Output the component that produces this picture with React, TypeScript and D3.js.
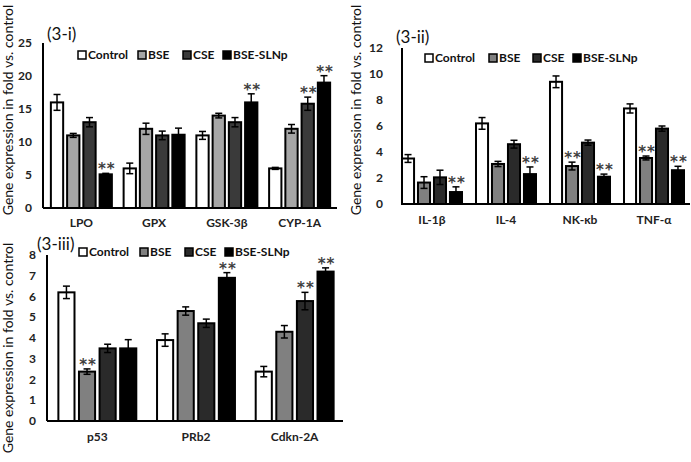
import React from "react";
import * as d3 from "d3";

// ---------- DATA ----------
const seriesNames = ["Control", "BSE", "CSE", "BSE-SLNp"];

// Panel 3-i
const cats1 = ["LPO", "GPX", "GSK-3β", "CYP-1A"];
const control1 = [16, 6, 11, 6];
const bse1 = [11, 12, 14, 12];
const cse1 = [13, 11, 13, 15.8];
const slnp1 = [5.1, 11.1, 16, 19];
const controlErr1 = [1.2, 0.8, 0.6, 0.15];
const bseErr1 = [0.3, 0.85, 0.35, 0.65];
const cseErr1 = [0.7, 0.65, 0.7, 1.0];
const slnpErr1 = [0.15, 1.0, 1.3, 1.05];
const stars1 = [
  [false, false, false, false],
  [false, false, false, false],
  [false, false, false, true],
  [true, false, true, true],
];
const ticks1 = [0, 5, 10, 15, 20, 25];

// Panel 3-ii
const cats2 = ["IL-1β", "IL-4", "NK-κb", "TNF-α"];
const control2 = [3.5, 6.2, 9.4, 7.35];
const bse2 = [1.65, 3.08, 2.92, 3.54];
const cse2 = [2.05, 4.6, 4.72, 5.8];
const slnp2 = [0.92, 2.3, 2.1, 2.6];
const controlErr2 = [0.3, 0.45, 0.45, 0.35];
const bseErr2 = [0.45, 0.2, 0.3, 0.15];
const cseErr2 = [0.55, 0.3, 0.2, 0.2];
const slnpErr2 = [0.4, 0.55, 0.2, 0.3];
const stars2 = [
  [false, false, false, false],
  [false, false, true, true],
  [false, false, false, false],
  [true, true, true, true],
];
const ticks2 = [0, 2, 4, 6, 8, 10, 12];

// Panel 3-iii
const cats3 = ["p53", "PRb2", "Cdkn-2A"];
const control3 = [6.2, 3.9, 2.38];
const bse3 = [2.38, 5.3, 4.3];
const cse3 = [3.5, 4.71, 5.78];
const slnp3 = [3.5, 6.9, 7.2];
const controlErr3 = [0.3, 0.3, 0.25];
const bseErr3 = [0.13, 0.2, 0.3];
const cseErr3 = [0.2, 0.2, 0.42];
const slnpErr3 = [0.42, 0.25, 0.18];
const stars3 = [
  [false, false, false],
  [true, false, false],
  [false, false, true],
  [false, true, true],
];
const ticks3 = [0, 1, 2, 3, 4, 5, 6, 7, 8];

const FONT = "Lato, 'Open Sans', sans-serif";

type PanelProps = {
  title: string;
  cats: string[];
  values: number[][];
  errs: number[][];
  stars: boolean[][];
  ticks: number[];
  colors: string[];
  axisX: number;
  axisEnd: number;
  y0: number;
  yTop: number;
  bandStart: number;
  bandEnd: number;
  groupPad: number;
  barPad: number;
  tickX: number;
  catY: number;
  titleX: number;
  titleY: number;
  legendX: number[];
  legendY: number;
  ylabX: number;
  ylabY: number;
};

function Panel(p: PanelProps) {
  const yMax = p.ticks[p.ticks.length - 1];
  const y = d3.scaleLinear().domain([0, yMax]).range([p.y0, p.yTop]);
  const x0 = d3
    .scaleBand<string>()
    .domain(p.cats)
    .range([p.bandStart, p.bandEnd])
    .paddingInner(p.groupPad)
    .paddingOuter(p.groupPad / 2);
  const x1 = d3
    .scaleBand<string>()
    .domain(seriesNames)
    .range([0, x0.bandwidth()])
    .paddingInner(p.barPad);
  const bw = x1.bandwidth();
  return (
    <g fontFamily={FONT}>
      {/* bars */}
      {p.values.map((vals, si) =>
        vals.map((v, ci) => {
          const bx = (x0(p.cats[ci]) as number) + (x1(seriesNames[si]) as number);
          const top = y(v);
          const e = p.errs[si][ci];
          const cx = bx + bw / 2;
          return (
            <g key={`b${si}-${ci}`}>
              <rect
                x={bx + 1}
                y={top}
                width={bw - 2}
                height={p.y0 - top}
                fill={p.colors[si]}
                stroke="#000"
                strokeWidth={2}
              />
              <line x1={cx} x2={cx} y1={y(v + e)} y2={y(v - e)} stroke="#000" strokeWidth={1.5} />
              <line x1={cx - 3.5} x2={cx + 3.5} y1={y(v + e)} y2={y(v + e)} stroke="#000" strokeWidth={1.5} />
              <line x1={cx - 3.5} x2={cx + 3.5} y1={y(v - e)} y2={y(v - e)} stroke="#000" strokeWidth={1.5} />
              {p.stars[si][ci] && (
                <text
                  x={cx + 1}
                  y={y(v + e) + 1}
                  textAnchor="middle"
                  fontFamily="'DejaVu Sans', sans-serif"
                  fontSize={15}
                  fontWeight={700}
                  fill="#404040"
                  letterSpacing={1}
                >
                  **
                </text>
              )}
            </g>
          );
        })
      )}
      {/* axes */}
      <line x1={p.axisX} x2={p.axisX} y1={p.yTop} y2={p.y0} stroke="#000" strokeWidth={2} />
      <line x1={p.axisX} x2={p.axisEnd} y1={p.y0} y2={p.y0} stroke="#000" strokeWidth={2} />
      {p.ticks.map((t) => (
        <text
          key={`t${t}`}
          x={p.tickX}
          y={y(t)}
          dy="0.35em"
          textAnchor="end"
          fontSize={12}
          fontWeight={700}
          fill="#222"
        >
          {t}
        </text>
      ))}
      {p.cats.map((c) => (
        <text
          key={`c${c}`}
          x={(x0(c) as number) + x0.bandwidth() / 2}
          y={p.catY}
          dy="0.35em"
          textAnchor="middle"
          fontSize={12}
          fontWeight={700}
          fill="#222"
        >
          {c}
        </text>
      ))}
      {/* title */}
      <text x={p.titleX} y={p.titleY} fontSize={17} fill="#111">
        {p.title}
      </text>
      {/* legend */}
      {seriesNames.map((s, i) => (
        <g key={`l${s}`}>
          <rect
            x={p.legendX[i]}
            y={p.legendY - 4}
            width={8}
            height={8}
            fill={p.colors[i]}
            stroke="#000"
            strokeWidth={1.5}
          />
          <text
            x={p.legendX[i] + 10}
            y={p.legendY}
            dy="0.35em"
            fontSize={12}
            fontWeight={700}
            fill="#111"
          >
            {s}
          </text>
        </g>
      ))}
      {/* y label */}
      <text
        transform={`translate(${p.ylabX},${p.ylabY}) rotate(-90)`}
        textAnchor="middle"
        dy="0.35em"
        fontSize={14}
        fill="#111"
      >
        Gene expression in fold vs. control
      </text>
    </g>
  );
}

export default function App() {
  return (
    <svg
      width={691}
      height={462}
      style={{ position: "absolute", left: 0, top: 0, background: "#fff" }}
    >
      <rect x={0} y={0} width={691} height={462} fill="#fff" />
      <Panel
        title="(3-i)"
        cats={cats1}
        values={[control1, bse1, cse1, slnp1]}
        errs={[controlErr1, bseErr1, cseErr1, slnpErr1]}
        stars={stars1}
        ticks={ticks1}
        colors={["#ffffff", "#a6a6a6", "#3a3a3a", "#000000"]}
        axisX={43}
        axisEnd={337}
        y0={208}
        yTop={43}
        bandStart={45}
        bandEnd={336}
        groupPad={0.134}
        barPad={0.12}
        tickX={32}
        catY={223}
        titleX={47}
        titleY={40}
        legendX={[78, 138, 183, 223]}
        legendY={55}
        ylabX={8}
        ylabY={110}
      />
      <Panel
        title="(3-ii)"
        cats={cats2}
        values={[control2, bse2, cse2, slnp2]}
        errs={[controlErr2, bseErr2, cseErr2, slnpErr2]}
        stars={stars2}
        ticks={ticks2}
        colors={["#ffffff", "#808080", "#2a2a2a", "#000000"]}
        axisX={402}
        axisEnd={690}
        y0={204}
        yTop={48}
        bandStart={395}
        bandEnd={691}
        groupPad={0.162}
        barPad={0.12}
        tickX={383}
        catY={220}
        titleX={396}
        titleY={43}
        legendX={[425, 489, 533, 573]}
        legendY={58}
        ylabX={356}
        ylabY={110}
      />
      <Panel
        title="(3-iii)"
        cats={cats3}
        values={[control3, bse3, cse3, slnp3]}
        errs={[controlErr3, bseErr3, cseErr3, slnpErr3]}
        stars={stars3}
        ticks={ticks3}
        colors={["#ffffff", "#808080", "#2a2a2a", "#000000"]}
        axisX={47}
        axisEnd={343}
        y0={421}
        yTop={255}
        bandStart={48}
        bandEnd={344}
        groupPad={0.19}
        barPad={0.12}
        tickX={36}
        catY={437}
        titleX={37}
        titleY={250}
        legendX={[79, 140, 185, 225]}
        legendY={252}
        ylabX={8}
        ylabY={348}
      />
    </svg>
  );
}
